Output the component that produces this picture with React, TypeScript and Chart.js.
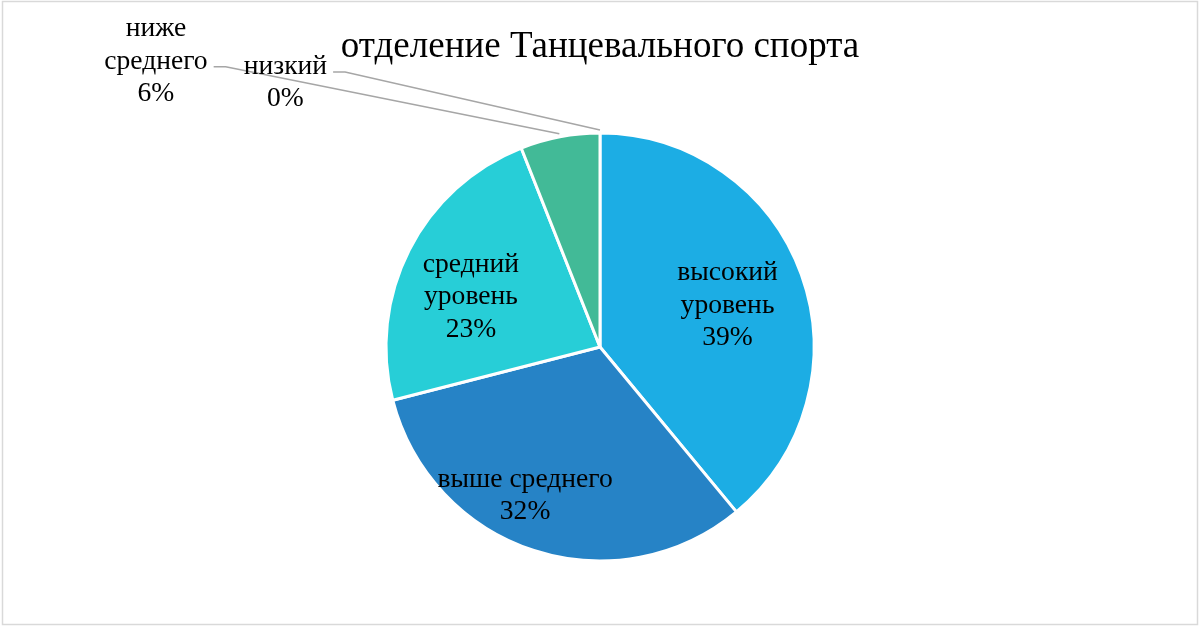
import React, { useEffect, useRef } from "react";
import { Chart, registerables } from "chart.js";

Chart.register(...registerables);

const TITLE = "отделение Танцевального спорта";
const CATEGORIES = ["высокий уровень", "выше среднего", "средний уровень", "ниже среднего", "низкий"];
const VALUES = [39, 32, 23, 6, 0];
const PERCENT_LABELS = ["39%", "32%", "23%", "6%", "0%"];
const COLORS = ["#1CADE4", "#2683C6", "#27CED7", "#42BA97", "#3E8853"];

// category text split into display rows (percentage appended as last row)
const NAME_LINES = [
  ["высокий", "уровень"],
  ["выше среднего"],
  ["средний", "уровень"],
  ["ниже", "среднего"],
  ["низкий"],
];
// label block placement relative to pie center, in units of radius (middle baseline)
const LABEL_POS = [
  { x: 0.596, y: -0.16, outside: false, leaderRow: 0 },
  { x: -0.35, y: 0.728, outside: false, leaderRow: 0 },
  { x: -0.603, y: -0.2, outside: false, leaderRow: 0 },
  { x: -2.075, y: -1.3, outside: true, leaderRow: 1 },
  { x: -1.47, y: -1.2, outside: true, leaderRow: 0 },
];

const FONT = "'Liberation Serif', 'Times New Roman', serif";

const labelPlugin = {
  id: "customLabels",
  afterDatasetsDraw(chart: any) {
    const ctx = chart.ctx as CanvasRenderingContext2D;
    const meta = chart.getDatasetMeta(0);
    ctx.save();
    // frame
    ctx.strokeStyle = "#D9D9D9";
    ctx.lineWidth = 1.5;
    ctx.strokeRect(2.5, 1.5, 1195, 623);
    // title
    ctx.fillStyle = "#000";
    ctx.font = `37px ${FONT}`;
    ctx.textAlign = "center";
    ctx.textBaseline = "alphabetic";
    ctx.fillText(TITLE, 600, 57);

    const lineH = 32.5;
    ctx.font = `27.6px ${FONT}`;
    meta.data.forEach((arc: any, i: number) => {
      const cx = arc.x, cy = arc.y, r = arc.outerRadius;
      const pos = LABEL_POS[i];
      const lx = cx + pos.x * r;
      const ly = cy + pos.y * r;
      const lines = [...NAME_LINES[i], PERCENT_LABELS[i]];
      const first = ly - ((lines.length - 1) * lineH) / 2;
      ctx.fillStyle = "#000";
      lines.forEach((t, k) => ctx.fillText(t, lx, first + k * lineH));
      if (pos.outside) {
        const mid = (arc.startAngle + arc.endAngle) / 2;
        const ex = cx + Math.cos(mid) * (r + 3);
        const ey = cy + Math.sin(mid) * (r + 3);
        const row = pos.leaderRow;
        const w = ctx.measureText(lines[row]).width;
        const sx = lx + w / 2 + 6;
        const sy = first + row * lineH - 2;
        ctx.strokeStyle = "#A6A6A6";
        ctx.lineWidth = 1.5;
        ctx.beginPath();
        ctx.moveTo(sx, sy);
        ctx.lineTo(sx + 12, sy);
        ctx.lineTo(ex, ey);
        ctx.stroke();
      }
    });
    ctx.restore();
  },
};

export default function App() {
  const ref = useRef<HTMLCanvasElement | null>(null);
  useEffect(() => {
    document.body.style.margin = "0";
    const chart = new Chart(ref.current!, {
      type: "pie",
      data: {
        labels: CATEGORIES,
        datasets: [
          {
            data: VALUES,
            backgroundColor: COLORS,
            borderColor: "#FFFFFF",
            borderWidth: 3,
          },
        ],
      },
      options: {
        animation: false,
        responsive: false,
        layout: { padding: { top: 131.5, bottom: 63.5, left: 0, right: 0 } },
        plugins: {
          legend: { display: false },
          title: { display: false },
          tooltip: { enabled: false },
        },
      },
      plugins: [labelPlugin],
    });
    return () => chart.destroy();
  }, []);
  return (
    <div style={{ position: "absolute", left: 0, top: 0, width: 1200, height: 626, background: "#fff" }}>
      <canvas ref={ref} width={1200} height={626} style={{ width: 1200, height: 626 }} />
    </div>
  );
}
